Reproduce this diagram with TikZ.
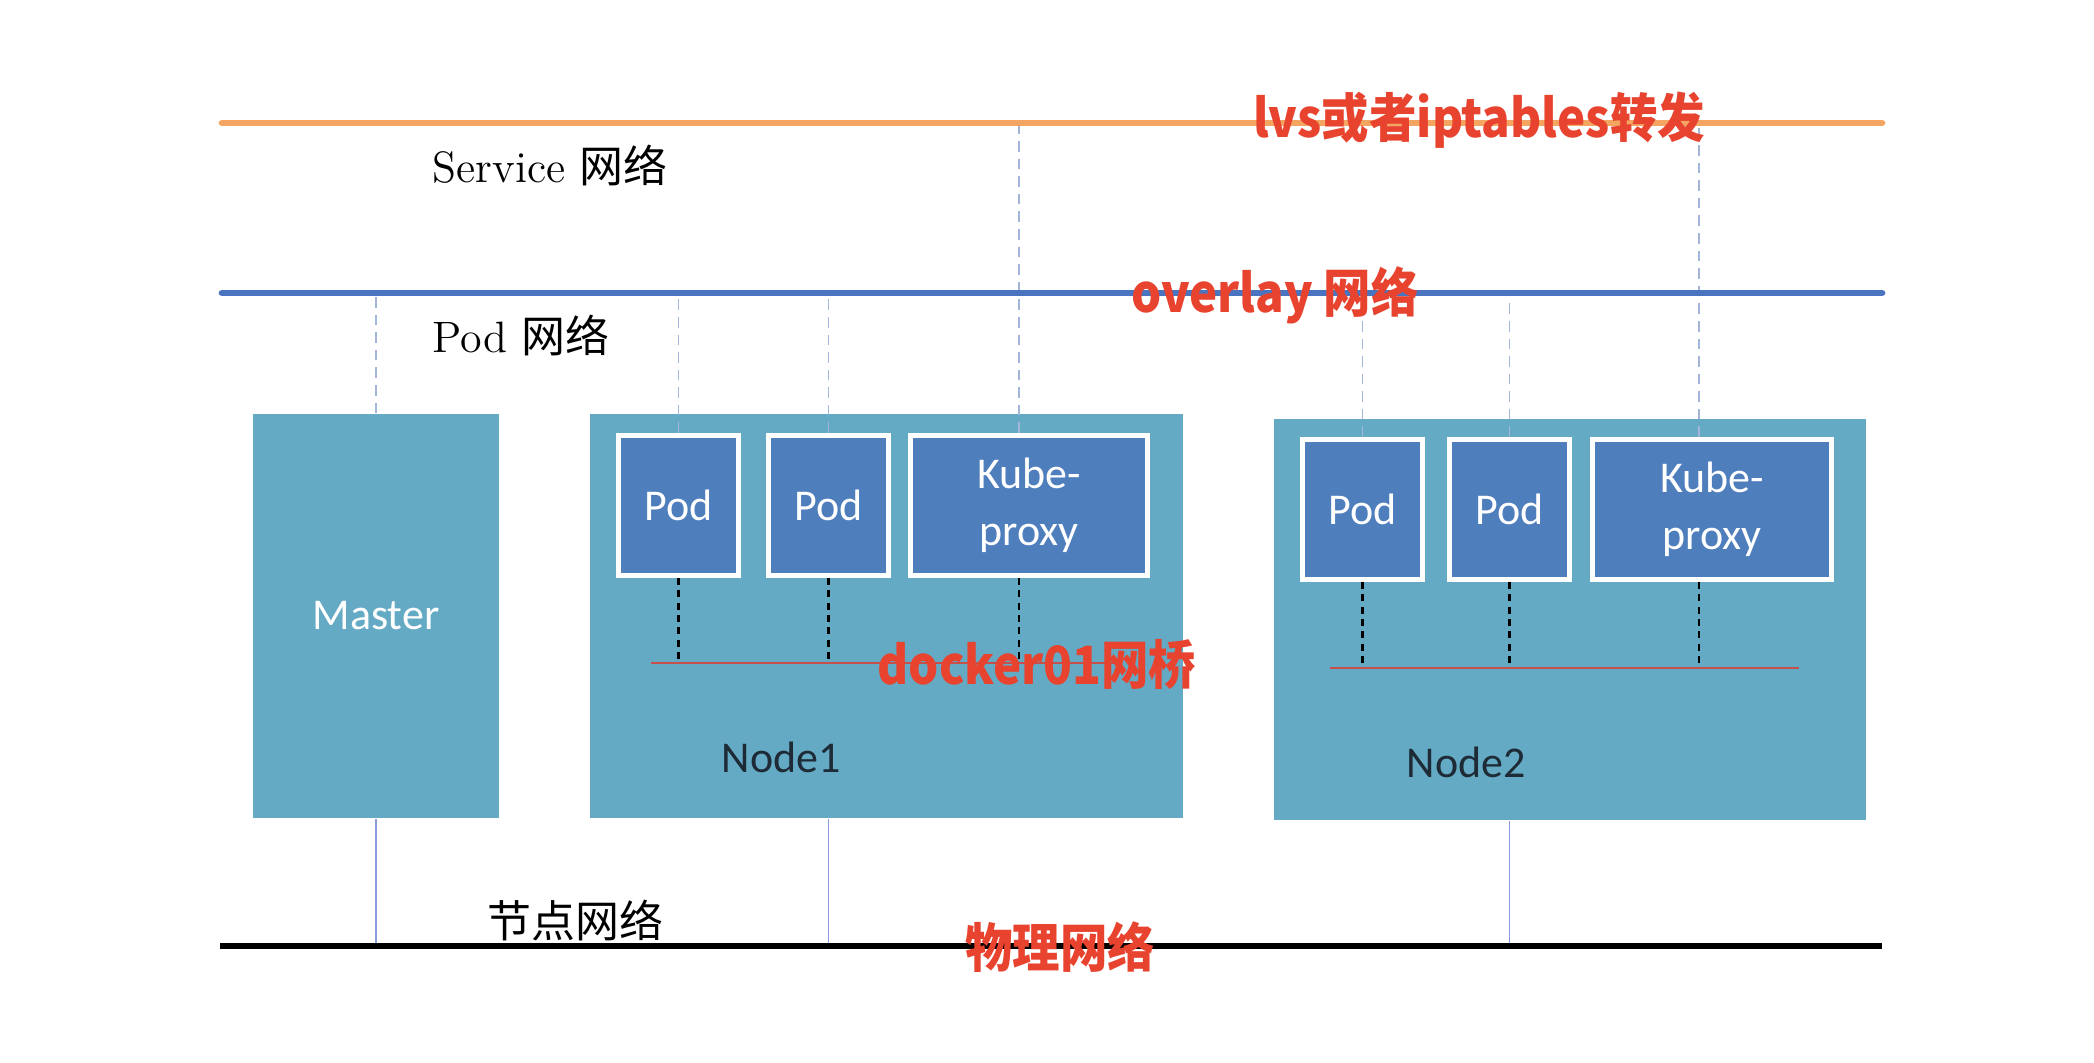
\documentclass[tikz,border=0pt]{standalone}
\usepackage{fontspec}
\newfontfamily\cjk{Noto Sans CJK SC}
\newfontfamily\calib{Carlito}
\usetikzlibrary{shadows}
\definecolor{hostteal}{HTML}{64AAC4}
\definecolor{podblue}{HTML}{4F7EBD}
\definecolor{svcorange}{HTML}{F4A562}
\definecolor{ovlblue}{HTML}{4A74C0}
\definecolor{notered}{HTML}{E8432F}
\definecolor{bridgered}{HTML}{C8504A}
\definecolor{linkgray}{HTML}{A3B6DA}
\definecolor{labelink}{HTML}{1E2B36}
\newcommand{\redtext}[1]{\scalebox{0.9}[1]{#1}}
\tikzset{
  hostbox/.style={fill=hostteal, inner sep=0pt, text=white, font=\calib\fontsize{12.5}{15}\selectfont},
  podbox/.style={fill=podblue, draw=white, line width=1.4pt, inner sep=0pt, text=white, align=center,
    font=\calib\fontsize{12.5}{16.3}\selectfont,
    drop shadow={shadow xshift=0.6pt, shadow yshift=-0.6pt, opacity=0.25}},
  hostname/.style={inner sep=0pt, text=labelink, font=\calib\fontsize{12.5}{15}\selectfont},
  netlabel/.style={anchor=west, inner sep=0pt, font=\fontsize{12.5}{15}\selectfont},
  note/.style={inner sep=0pt, text=notered, font=\cjk\bfseries\fontsize{15}{18}\selectfont},
  uplink/.style={linkgray, line width=0.5pt, dash pattern=on 3pt off 2pt},
  veth/.style={black, line width=0.8pt, dash pattern=on 2pt off 1.5pt},
  hostlink/.style={linkgray!85!blue, line width=0.5pt},
}
\begin{document}
\begin{tikzpicture}[x=0.01cm, y=-0.01cm]
\fill[white] (0,0) rectangle (2094,1062);
% network lines
\coordinate (svcL) at (222,123);
\coordinate (svcR) at (1882,123);
\coordinate (podL) at (222,293);
\coordinate (podR) at (1882,293);
\coordinate (phyL) at (220,946);
\coordinate (phyR) at (1882,946);
% hosts
\node[hostbox, minimum width=2.46cm, minimum height=4.04cm] (master) at (376,616) {Master};
\node[hostbox, minimum width=5.93cm, minimum height=4.04cm] (node1) at (886.5,616) {};
\node[hostbox, minimum width=5.92cm, minimum height=4.01cm] (node2) at (1570,619.5) {};
\node[hostname] (node1txt) at (781,757) {Node1};
\node[hostname] (node2txt) at (1466,762) {Node2};
% pods
\node[podbox, minimum width=1.20cm, minimum height=1.40cm] (pod1) at (678.5,505.5) {Pod};
\node[podbox, minimum width=1.20cm, minimum height=1.40cm] (pod2) at (828.5,505.5) {Pod};
\node[podbox, minimum width=2.37cm, minimum height=1.40cm] (kube1) at (1029,505.5) {Kube-\\proxy};
\node[podbox, minimum width=1.20cm, minimum height=1.40cm] (pod3) at (1362.5,509.5) {Pod};
\node[podbox, minimum width=1.20cm, minimum height=1.40cm] (pod4) at (1509.5,509.5) {Pod};
\node[podbox, minimum width=2.39cm, minimum height=1.40cm] (kube2) at (1712,509.5) {Kube-\\proxy};
% bridges
\coordinate (br1L) at (651,663);
\coordinate (br1R) at (1118,663);
\coordinate (br2L) at (1330,668);
\coordinate (br2R) at (1799,668);
\draw[bridgered, line width=0.6pt] (br1L) -- (br1R);
\draw[bridgered, line width=0.6pt] (br2L) -- (br2R);
\foreach \p in {pod1, pod2}
  \draw[veth] (\p.south) -- (\p.south |- br1L);
\draw[veth] ([xshift=-0.1cm]kube1.south) -- ([xshift=-0.1cm]kube1.south |- br1L);
\foreach \p in {pod3, pod4}
  \draw[veth] (\p.south) -- (\p.south |- br2L);
\draw[veth] ([xshift=-0.13cm]kube2.south) -- ([xshift=-0.13cm]kube2.south |- br2L);
% up links
\draw[uplink] (master.north) -- (master.north |- podL);
\foreach \p in {pod1, pod2, pod3, pod4}
  \draw[uplink] (\p.north) -- (\p.north |- podL);
\draw[uplink] ([xshift=-0.1cm]kube1.north) -- ([xshift=-0.1cm]kube1.north |- svcL);
\draw[uplink] ([xshift=-0.13cm]kube2.north) -- ([xshift=-0.13cm]kube2.north |- svcL);
% host links
\draw[hostlink] (master.south) -- (master.south |- phyL);
\draw[hostlink] (node1.south -| pod2) -- (pod2 |- phyL);
\draw[hostlink] (node2.south -| pod4) -- (pod4 |- phyL);
\draw[svcorange, line width=1.9pt, line cap=round] (svcL) -- (svcR);
\draw[ovlblue, line width=1.9pt, line cap=round] (podL) -- (podR);
\draw[black, line width=1.5pt] (phyL) -- (phyR);
% labels
\node[netlabel] (svclbl) at (432,165) {Service {\cjk 网络}};
\node[netlabel] (podlbl) at (432,335) {Pod {\cjk 网络}};
\node[netlabel] (hostlbl) at (487,920) {\cjk 节点网络};
\node[note] (lvs) at (1479,120) {\redtext{lvs或者iptables转发}};
\node[note] (overlay) at (1275,295) {\redtext{overlay 网络}};
\node[note] (docker) at (1037,664) {\redtext{docker01网桥}};
\node[note] (phys) at (1060,947) {\redtext{物理网络}};
\end{tikzpicture}
\end{document}
